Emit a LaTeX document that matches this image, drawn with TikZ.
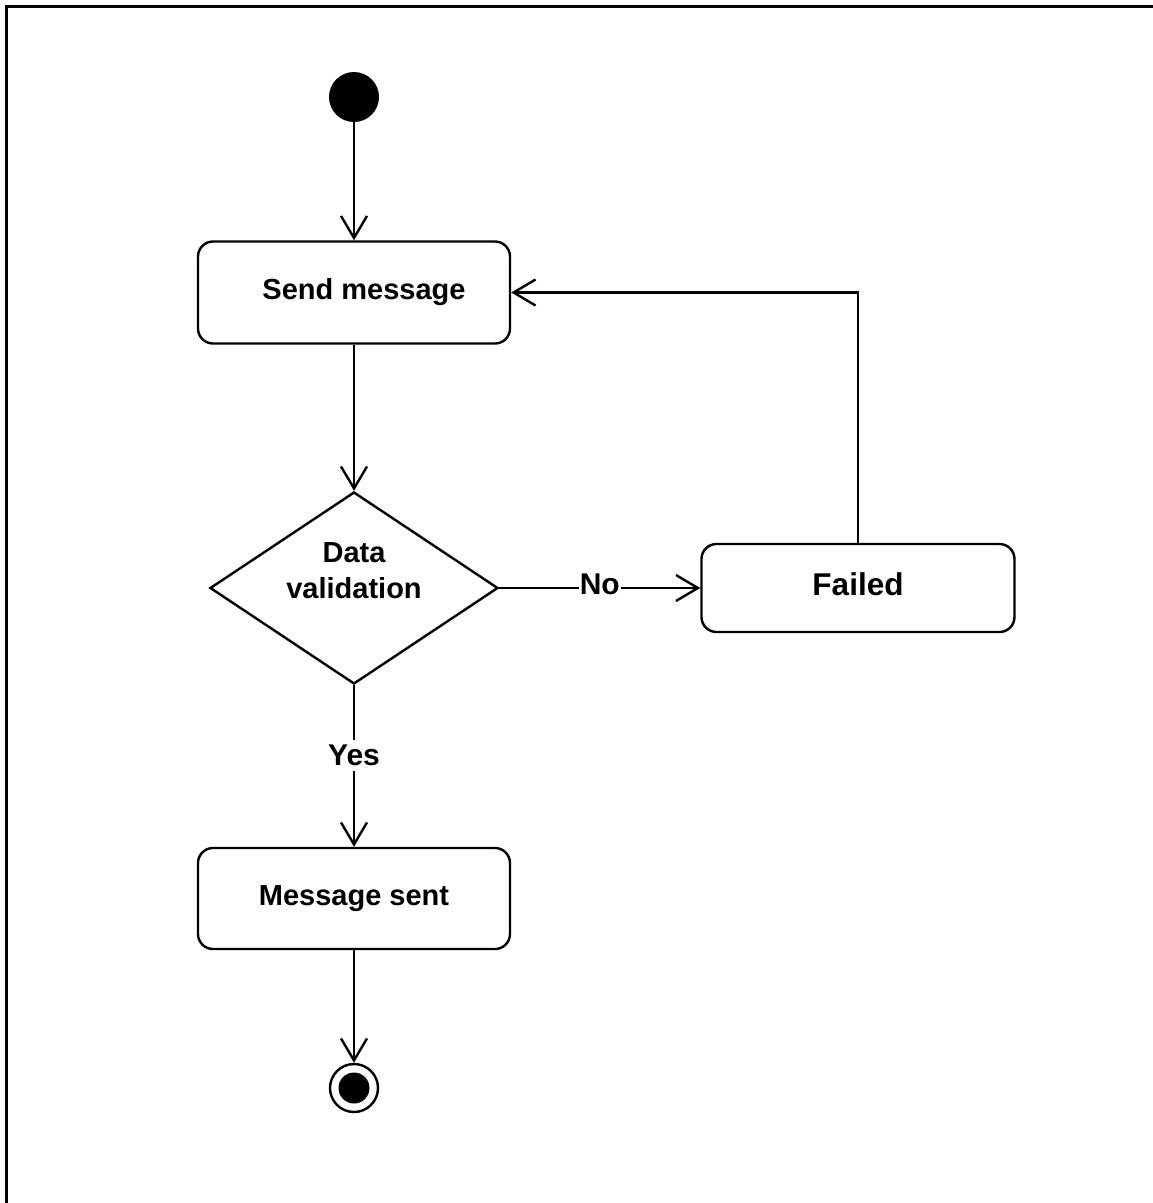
\documentclass[tikz,border=0pt]{standalone}
\usepackage{fontspec}
\setmainfont{Liberation Sans}
\usetikzlibrary{shapes.geometric,arrows.meta}
\tikzset{
  box/.style={draw=black, line width=2.4pt, rounded corners=15pt, minimum width=312pt, inner sep=0pt},
  txt/.style={font=\fontsize{29}{36}\selectfont\bfseries, inner sep=0pt, anchor=base},
  edgelbl/.style={font=\fontsize{30}{36}\selectfont\bfseries, fill=white, inner sep=1pt},
  arr/.style={draw=black, line width=2.4pt, -{Straight Barb[length=22pt,width=26pt,line width=2.4pt]}},
}
\begin{document}
\begin{tikzpicture}[x=1pt,y=-1pt]
\useasboundingbox (0,0) rectangle (1153,1203);
\begin{scope}
  \clip (0,0) rectangle (1153,1203);
  \draw[line width=3pt] (6,6) rectangle (1170,1220);
\end{scope}

% start
\node[circle, fill=black, minimum size=50pt, inner sep=0pt] (start) at (354,97) {};

% Send message
\node[box, minimum height=102pt] (send) at (354,292.5) {};
\node[txt] (sendt) at (364,299) {Send message};

% decision
\node[diamond, draw=black, line width=2.4pt, minimum width=288pt, minimum height=192pt, aspect=1.5, inner sep=0pt] (dia) at (354,588) {};
\node[txt] (diat1) at (354,562) {Data};
\node[txt] (diat2) at (354,598) {validation};

% Failed
\node[box, minimum height=88pt, minimum width=313pt] (failed) at (858,588) {};
\node[txt, font=\fontsize{31.5}{36}\selectfont\bfseries] (failedt) at (858,595) {Failed};

% Message sent
\node[box, minimum height=101pt] (msg) at (354,898.5) {};
\node[txt] (msgt) at (354,905) {Message sent};

% end
\node[circle, draw=black, line width=2.4pt, minimum size=48pt, inner sep=0pt] (endc) at (354,1088) {};
\node[circle, fill=black, minimum size=31pt, inner sep=0pt] (endi) at (354,1088) {};

% connectors
\draw[arr] (start.south) -- (send.north);
\draw[arr] (send.south) -- (dia.north);
\draw[arr] (dia.east) -- node[edgelbl, yshift=4pt] (no) {No} (failed.west);
\draw[arr] (failed.north) |- (send.east);
\draw[arr] (dia.south) -- node[edgelbl, pos=0.415, inner xsep=1pt, inner ysep=5pt, yshift=-3pt] (yes) {Yes} (msg.north);
\draw[arr] (msg.south) -- (endc.north);
\end{tikzpicture}
\end{document}
